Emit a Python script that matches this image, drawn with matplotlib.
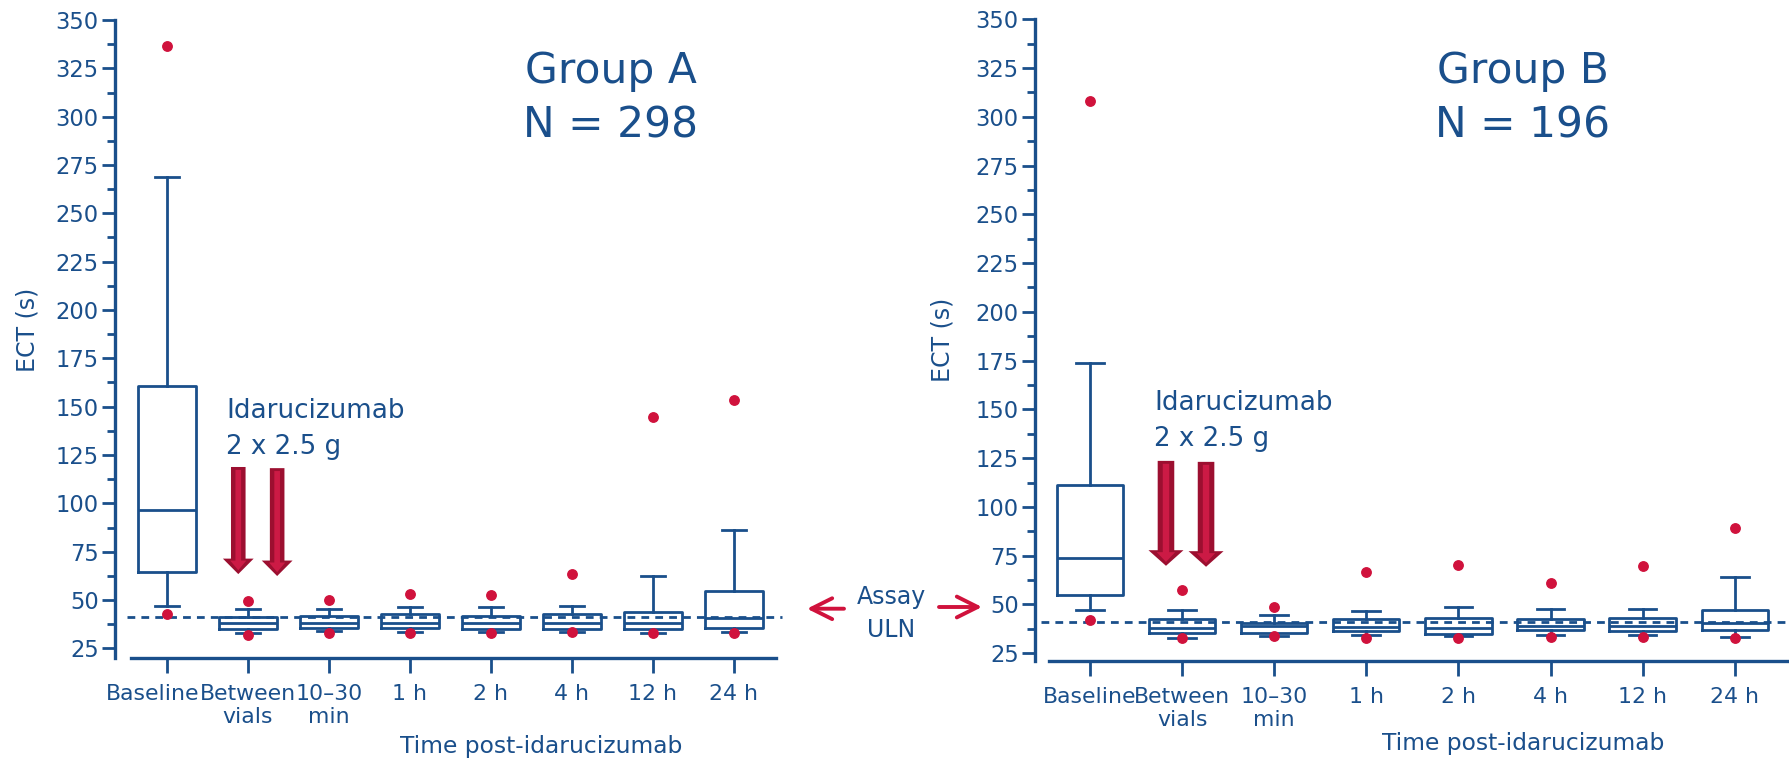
import matplotlib
matplotlib.use('Agg')
import matplotlib.pyplot as plt
from matplotlib.patches import FancyArrow, FancyArrowPatch
from matplotlib.ticker import MultipleLocator
from matplotlib.transforms import ScaledTranslation

plt.rcParams['font.family'] = ['DejaVu Sans']

BLUE = '#1a4f8b'
RED = '#d0123c'
DARK_RED = '#9c0f30'

W, H = 1790, 764

categories = ['Baseline', 'Between\nvials', '10\u201330\nmin', '1 h', '2 h', '4 h', '12 h', '24 h']
uln = 41

# Group A (N = 298)
a_whislo = [47, 33.0, 34.0, 33.4, 33.4, 33.4, 33.0, 33.6]
a_q1 = [64.5, 34.8, 35.6, 35.6, 35.0, 35.0, 35.0, 35.3]
a_med = [96.3, 38.2, 37.9, 37.9, 37.9, 37.9, 38.2, 40.5]
a_q3 = [160.5, 41.4, 41.8, 42.7, 41.9, 42.7, 43.7, 54.8]
a_whishi = [269, 45.1, 45.5, 46.6, 46.6, 47.0, 62.4, 86.2]
a_fliers = [[336.5, 42.8], [49.6, 31.8], [50, 32.7], [53.1, 33], [52.4, 32.7],
            [63.4, 33.5], [144.5, 32.7], [153.3, 33]]

# Group B (N = 196)
b_whislo = [47, 32.9, 33.6, 34.1, 33.8, 34.1, 34.1, 33.2]
b_q1 = [55, 35.2, 35.3, 36.2, 35.0, 36.7, 36.2, 36.7]
b_med = [74, 38.0, 38.7, 38.4, 38.0, 38.7, 38.7, 40.4]
b_q3 = [111, 42.5, 40.6, 42.6, 43.0, 42.5, 43.0, 46.9]
b_whishi = [174, 46.9, 44.5, 46.6, 48.6, 47.9, 47.9, 64]
b_fliers = [[308, 42], [57.2, 32.6], [48.6, 33.8], [66.4, 33], [70, 33],
            [60.8, 33.4], [69.5, 33.4], [89.4, 33]]


def px(x, y):
    return x / W, 1 - y / H


def make_stats(lo, q1, med, q3, hi, fl):
    return [dict(whislo=a, q1=b, med=c, q3=d, whishi=e, fliers=f)
            for a, b, c, d, e, f in zip(lo, q1, med, q3, hi, fl)]


def draw_arrow(ax, x, top, tip):
    # dose arrow: dark outline with a lighter stripe down the middle
    ax.add_patch(FancyArrow(x, top, 0, tip - top, width=0.18, head_width=0.38,
                            head_length=8, length_includes_head=True,
                            color=DARK_RED, lw=0, zorder=4))
    ax.add_patch(FancyArrow(x, top - 1.5, 0, tip - top + 3.5, width=0.07, head_width=0.2,
                            head_length=5, length_includes_head=True,
                            color='#cc1a45', lw=0, zorder=5))


def panel(ax, stats, ylo, xlim, spine_x, uln_x, txt_xy, arrows):
    line = dict(color=BLUE, linewidth=2.0)
    ax.bxp(stats, positions=range(len(stats)), widths=0.72, capwidths=0.3,
           boxprops=line, whiskerprops=line, capprops=line, medianprops=line,
           flierprops=dict(marker='o', markerfacecolor=RED, markeredgecolor=RED,
                           markersize=6.8, linestyle='none', zorder=6),
           manage_ticks=False)
    ax.hlines(uln, uln_x[0], uln_x[1], colors=BLUE, linewidth=2.0,
              linestyles=(0, (2.8, 2.2)), zorder=5)
    ax.set_xlim(*xlim)
    ax.set_ylim(ylo, 350)
    for s in ['top', 'right']:
        ax.spines[s].set_visible(False)
    for s in ['left', 'bottom']:
        ax.spines[s].set_color(BLUE)
        ax.spines[s].set_linewidth(2.4)
    ax.spines['left'].set_bounds(ylo, 350)
    ax.spines['bottom'].set_bounds(*spine_x)
    ax.set_yticks(range(25, 351, 25))
    ax.yaxis.set_minor_locator(MultipleLocator(12.5))
    ax.set_xticks(range(len(categories)))
    ax.set_xticklabels(categories)
    ax.tick_params(axis='y', which='major', length=9.2, width=2.0, color=BLUE,
                   labelcolor=BLUE, labelsize=16.3, pad=2.5)
    ax.tick_params(axis='y', which='minor', length=5.5, width=2.0, color=BLUE)
    ax.tick_params(axis='x', length=10.8, width=2.0, color=BLUE,
                   labelcolor=BLUE, labelsize=15.8, pad=8)
    ax.text(txt_xy[0], txt_xy[1], 'Idarucizumab', color=BLUE, fontsize=18.8,
            va='baseline', ha='left')
    ax.text(txt_xy[0], txt_xy[2], '2 x 2.5 g', color=BLUE, fontsize=18.8,
            va='baseline', ha='left')
    for x, top, tip in arrows:
        draw_arrow(ax, x, top, tip)
    ax.set_ylabel('ECT (s)', color=BLUE, fontsize=17)
    ax.yaxis.label.set_va('center')
    ax.set_xlabel('Time post-idarucizumab', color=BLUE, fontsize=16.8)
    ax.xaxis.label.set_va('baseline')


fig = plt.figure(figsize=(W / 100, H / 100), dpi=100)

ax1 = fig.add_axes([115 / W, 1 - 658 / H, 670 / W, 638 / H])
panel(ax1, make_stats(a_whislo, a_q1, a_med, a_q3, a_whishi, a_fliers), 20,
      (-0.642, 7.63), (-0.444, 7.519), (-0.494, 7.59), (0.728, 144.1, 125.5),
      [(0.88, 118.8, 63.4), (1.36, 118.2, 62.4)])
ax1.yaxis.set_label_coords(-0.131, 0.514)
ax1.xaxis.set_label_coords(0.636, -0.149)

ax2 = fig.add_axes([1035 / W, 1 - 661 / H, 755 / W, 641.7 / H])
panel(ax2, make_stats(b_whislo, b_q1, b_med, b_q3, b_whishi, b_fliers), 21,
      (-0.597, 7.6), (-0.445, 7.565), (-0.53, 7.565), (0.695, 149.7, 131.4),
      [(0.825, 123.6, 69.8), (1.26, 123.1, 69.3)])
ax2.yaxis.set_label_coords(-0.123, 0.50)
ax2.xaxis.set_label_coords(0.646, -0.1387)

# nudge the first category label of the left panel so it clears its neighbour
lab = ax1.get_xticklabels()[0]
lab.set_transform(lab.get_transform() + ScaledTranslation(-0.14, 0, fig.dpi_scale_trans))

# group headers
for cx, name, n in [(611, 'Group A', 'N = 298'), (1523, 'Group B', 'N = 196')]:
    fig.text(*px(cx, 83), name, ha='center', va='baseline', fontsize=30.5, color=BLUE)
    fig.text(*px(cx, 138), n, ha='center', va='baseline', fontsize=30.5, color=BLUE)

# assay upper limit of normal callout between the panels
fig.text(*px(891, 604), 'Assay', ha='center', va='baseline', fontsize=17, color=BLUE)
fig.text(*px(891, 637), 'ULN', ha='center', va='baseline', fontsize=17, color=BLUE)
for a, b in [((844, 608.7), (807, 608.7)), ((939, 607), (982, 607))]:
    fig.add_artist(FancyArrowPatch(px(*a), px(*b), transform=fig.transFigure,
                                   arrowstyle='->,head_length=1.0,head_width=0.5',
                                   mutation_scale=15, lw=2.8, color=RED,
                                   shrinkA=0, shrinkB=0))

fig.savefig('out.png', dpi=100)
